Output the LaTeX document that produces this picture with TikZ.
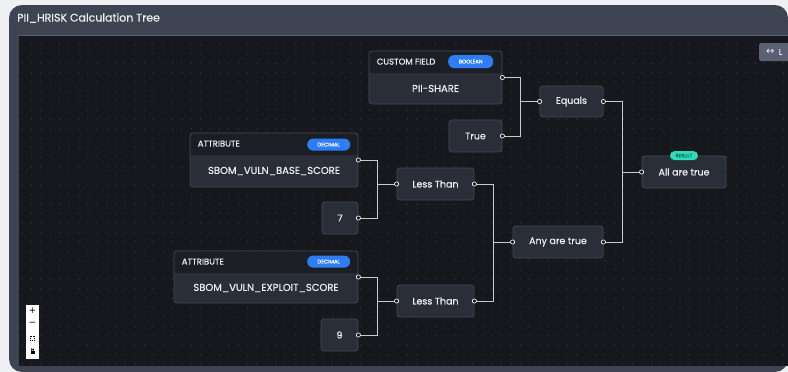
\documentclass[tikz,border=0pt]{standalone}
\usepackage{fontspec}
\setmainfont[FakeBold=0.6]{Poppins}
\newfontfamily\symbfont{DejaVu Sans}
\usetikzlibrary{positioning, calc}
\definecolor{pagebg}{HTML}{EEF0F3}
\definecolor{panel}{HTML}{3E4451}
\definecolor{panelline}{HTML}{596070}
\definecolor{canvas}{HTML}{17171E}
\definecolor{griddot}{HTML}{383944}
\definecolor{cardfill}{HTML}{2A2E38}
\definecolor{cardline}{HTML}{454A56}
\definecolor{headfill}{HTML}{1C1E26}
\definecolor{wire}{HTML}{C8CACF}
\definecolor{ink}{HTML}{ECEEF2}
\definecolor{badgeblue}{HTML}{2F7DF5}
\definecolor{badgeteal}{HTML}{2EDDB8}
\definecolor{tealink}{HTML}{12705F}
\definecolor{btnfill}{HTML}{5B6172}

\begin{document}
\begin{tikzpicture}[
    x = 1pt, y = -1pt,
    card/.style = {
        draw = cardline,
        fill = cardfill,
        line width = 0.8pt,
        rounded corners = 3pt,
        inner sep = 0pt,
        minimum height = 32,
        text = ink,
        font = \fontsize{9.5}{11}\selectfont
    },
    fieldbox/.style = {
        card,
        minimum height = 53,
        path picture = {\fill[headfill] (path picture bounding box.north west) rectangle ([yshift=-22]path picture bounding box.north east);}
    },
    valtext/.style = {text = ink, font = \fontsize{10}{12}\selectfont, inner sep = 0pt},
    headtext/.style = {text = ink, font = \fontsize{8.5}{10}\selectfont, inner sep = 0pt},
    badge/.style = {
        fill = badgeblue,
        text = white,
        rounded corners = 6pt,
        minimum width = 43,
        minimum height = 12,
        inner sep = 0pt,
        font = \fontsize{5.3}{6}\selectfont
    },
    resultbadge/.style = {
        fill = badgeteal,
        text = tealink,
        rounded corners = 4.5pt,
        minimum width = 28,
        minimum height = 9,
        inner sep = 0pt,
        font = \fontsize{5}{6}\selectfont
    },
    wire/.style = {draw = wire, line width = 0.8pt},
    port/.style = {draw = ink, fill = canvas, line width = 0.7pt}
]
\useasboundingbox (0,0) rectangle (788,372);

% frame
\fill[pagebg] (0,0) rectangle (788,372);
\fill[panel, rounded corners = 13pt] (9,5) rectangle (788,372);
\fill[canvas] (19,36) rectangle (788,366);
\draw[panelline, line width = 0.6pt] (19,35.5) -- (788,35.5);
\node[text = ink, font = \fontsize{11}{13}\selectfont, anchor = west, inner sep = 0pt] (title) at (17,18) {PII\_HRISK Calculation Tree};

% grid
\foreach \i in {0,...,81}
\foreach \j in {0,...,34}
{
    \fill[griddot] (22 + \i*9.4, 44.3 + \j*9.4) circle (0.7);
}

% field nodes
\node[fieldbox, minimum width = 133] (pii) at (435.5, 77.5) {};
\node[headtext, anchor = west] (piikind) at ([xshift=8, yshift=-11]pii.north west) {CUSTOM FIELD};
\node[badge, minimum width = 45, minimum height = 13, anchor = east] (piitype) at ([xshift=-9, yshift=-11]pii.north east) {BOOLEAN};
\node[valtext] (piival) at ([yshift=-11]pii.center) {PII-SHARE};

\node[fieldbox, minimum width = 168, minimum height = 54] (base) at (274, 160) {};
\node[headtext, anchor = west] (basekind) at ([xshift=8, yshift=-11]base.north west) {ATTRIBUTE};
\node[badge, anchor = east] (basetype) at ([xshift=-8, yshift=-12]base.north east) {DECIMAL};
\node[valtext] (baseval) at ([yshift=-11]base.center) {SBOM\_VULN\_BASE\_SCORE};

\node[fieldbox, minimum width = 184, minimum height = 52] (exploit) at (266, 277) {};
\node[headtext, anchor = west] (exploitkind) at ([xshift=8, yshift=-11]exploit.north west) {ATTRIBUTE};
\node[badge, anchor = east] (exploittype) at ([xshift=-8, yshift=-11]exploit.north east) {DECIMAL};
\node[valtext] (exploitval) at ([yshift=-11]exploit.center) {SBOM\_VULN\_EXPLOIT\_SCORE};

% values
\node[card, minimum width = 53] (true) at (475.5, 136) {True};
\node[card, minimum width = 36] (seven) at (340, 218) {7};
\node[card, minimum width = 37] (nine) at (339.5, 335) {9};

% operators
\node[card, minimum width = 63, minimum height = 31] (equals) at (571.5, 101.5) {Equals};
\node[card, minimum width = 77] (lessa) at (435.5, 184) {Less Than};
\node[card, minimum width = 77] (lessb) at (435.5, 301) {Less Than};
\node[card, minimum width = 90] (any) at (558, 242) {Any are true};
\node[card, minimum width = 84] (all) at (684, 172) {All are true};
\node[resultbadge] (allbadge) at (all.north) {RESULT};

% lines
\draw[wire] (pii.east) -| ([xshift=-19]equals.west) -- (equals.west);
\draw[wire] (true.east) -| ([xshift=-19]equals.west);
\draw[wire] (base.east) -| ([xshift=-19.5]lessa.west) -- (lessa.west);
\draw[wire] (seven.east) -| ([xshift=-19.5]lessa.west);
\draw[wire] (exploit.east) -| ([xshift=-19.5]lessb.west) -- (lessb.west);
\draw[wire] (nine.east) -| ([xshift=-19.5]lessb.west);
\draw[wire] (lessa.east) -| ([xshift=-19.5]any.west) -- (any.west);
\draw[wire] (lessb.east) -| ([xshift=-19.5]any.west);
\draw[wire] (equals.east) -| ([xshift=-19.5]all.west) -- (all.west);
\draw[wire] (any.east) -| ([xshift=-19.5]all.west);

% ports
\foreach \n in {pii, true, base, seven, exploit, nine, lessa, lessb, equals, any}
    \draw[port] (\n.east) circle (2.1);
\foreach \n in {equals, lessa, lessb, any, all}
    \draw[port] (\n.west) circle (2.1);

% controls
\node[fill = btnfill, rounded corners = 2pt, minimum height = 18, minimum width = 34, anchor = west, inner sep = 0pt, text = ink, font = \fontsize{8}{9}\selectfont] (layout) at (759, 52) {\hspace*{-4pt}{\symbfont\fontsize{10}{10}\selectfont ↔}\ \ L};
\node[fill = white, minimum width = 13, minimum height = 54, inner sep = 0pt] (zoombox) at (32.5, 332) {};
\node[text = black, font = \symbfont\fontsize{9}{9}\selectfont, inner sep = 0pt] (zoomin) at (32.5, 311) {+};
\node[text = black, font = \symbfont\fontsize{9}{9}\selectfont, inner sep = 0pt] (zoomout) at (32.5, 324) {−};
\draw[black, line width = 0.6pt, dash pattern = on 1pt off 1pt] (30.3, 335.8) rectangle (34.7, 340.2);
\fill[black] (30.5, 350.5) rectangle (34.5, 354);
\draw[black, line width = 0.6pt] (31.5, 350.5) -- (31.5, 349) arc (180:0:1) -- (33.5, 350.5);

\end{tikzpicture}
\end{document}
